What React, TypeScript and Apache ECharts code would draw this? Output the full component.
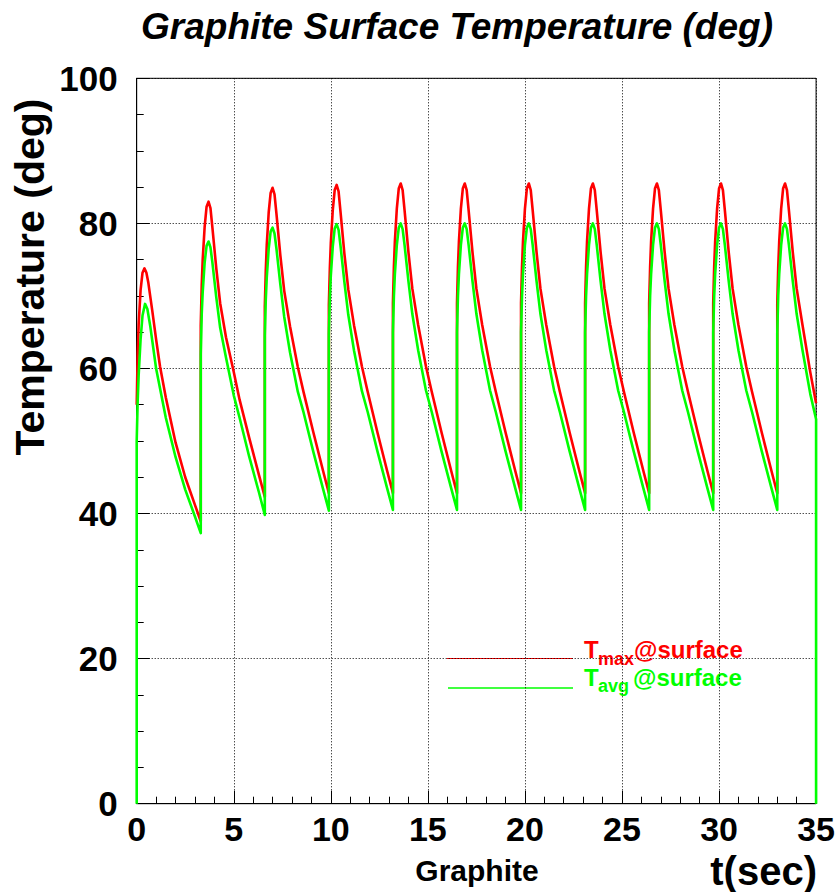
import React, { useEffect, useRef } from "react";
import * as echarts from "echarts";

// Time axis (sec) and temperature axis (deg) ticks
const xTicks = [0, 5, 10, 15, 20, 25, 30, 35];
const yTicks = [0, 20, 40, 60, 80, 100];

// T_max @ surface : [t (sec), T (deg)]
const tMax: [number, number][] = [
  [0, 55], [0.05, 62], [0.1, 66], [0.2, 70.8], [0.3, 73.2], [0.4, 73.8], [0.5, 73.2], [0.6, 71.8], [0.8, 68], [1.0, 64], [1.2, 60.3], [1.5, 56], [2.0, 49.8], [2.5, 45], [3.0, 41.2], [3.3, 38.9],
  [3.3, 66], [3.35, 71.5], [3.4, 75], [3.5, 79.5], [3.6, 82.3], [3.7, 83.0], [3.8, 82.1], [3.9, 79.4], [4.1, 73.8], [4.3, 69], [4.6, 64.3], [5.0, 59.5], [5.3, 55.7], [5.8, 50.4], [6.3, 45.3], [6.6, 42.3],
  [6.6, 68.5], [6.65, 73.5], [6.7, 77], [6.8, 81.5], [6.9, 84.2], [7.0, 84.9], [7.1, 84.0], [7.2, 81.3], [7.4, 75.6], [7.6, 70.7], [7.9, 65.8], [8.3, 60.2], [8.6, 56.7], [9.1, 51.2], [9.6, 45.9], [9.9, 42.8],
  [9.9, 68.8], [9.95, 73.8], [10.0, 77.3], [10.1, 81.8], [10.2, 84.6], [10.3, 85.3], [10.4, 84.4], [10.5, 81.6], [10.7, 75.8], [10.9, 70.9], [11.2, 65.9], [11.6, 60.3], [11.9, 56.8], [12.4, 51.2], [12.9, 45.9], [13.2, 42.8],
  [13.2, 69], [13.25, 74], [13.3, 77.5], [13.4, 82], [13.5, 84.8], [13.6, 85.5], [13.7, 84.6], [13.8, 81.8], [14.0, 76], [14.2, 71], [14.5, 66], [14.9, 60.3], [15.2, 56.8], [15.7, 51.2], [16.2, 45.9], [16.5, 42.8],
  [16.5, 69], [16.55, 74], [16.6, 77.5], [16.7, 82], [16.8, 84.8], [16.9, 85.5], [17.0, 84.6], [17.1, 81.8], [17.3, 76], [17.5, 71], [17.8, 66], [18.2, 60.3], [18.5, 56.8], [19.0, 51.2], [19.5, 45.9], [19.8, 42.8],
  [19.8, 69], [19.85, 74], [19.9, 77.5], [20.0, 82], [20.1, 84.8], [20.2, 85.5], [20.3, 84.6], [20.4, 81.8], [20.6, 76], [20.8, 71], [21.1, 66], [21.5, 60.3], [21.8, 56.8], [22.3, 51.2], [22.8, 45.9], [23.1, 42.8],
  [23.1, 69], [23.15, 74], [23.2, 77.5], [23.3, 82], [23.4, 84.8], [23.5, 85.5], [23.6, 84.6], [23.7, 81.8], [23.9, 76], [24.1, 71], [24.4, 66], [24.8, 60.3], [25.1, 56.8], [25.6, 51.2], [26.1, 45.9], [26.4, 42.8],
  [26.4, 69], [26.45, 74], [26.5, 77.5], [26.6, 82], [26.7, 84.8], [26.8, 85.5], [26.9, 84.6], [27.0, 81.8], [27.2, 76], [27.4, 71], [27.7, 66], [28.1, 60.3], [28.4, 56.8], [28.9, 51.2], [29.4, 45.9], [29.7, 42.8],
  [29.7, 69], [29.75, 74], [29.8, 77.5], [29.9, 82], [30.0, 84.8], [30.1, 85.5], [30.2, 84.6], [30.3, 81.8], [30.5, 76], [30.7, 71], [31.0, 66], [31.4, 60.3], [31.7, 56.8], [32.2, 51.2], [32.7, 45.9], [33.0, 42.8],
  [33.0, 69], [33.05, 74], [33.1, 77.5], [33.2, 82], [33.3, 84.8], [33.4, 85.5], [33.5, 84.6], [33.6, 81.8], [33.8, 76], [34.0, 71], [34.3, 66], [34.7, 59.5], [35.0, 55.2],
];

// T_avg @ surface : [t (sec), T (deg)]
const tAvg: [number, number][] = [
  [0, 0], [0, 50], [0.05, 55.5], [0.1, 59], [0.2, 64], [0.3, 67.3], [0.43, 68.9], [0.55, 68.2], [0.7, 65.8], [1.0, 60], [1.5, 53.2], [2.0, 47.8], [2.5, 43.3], [3.0, 39.6], [3.3, 37.3],
  [3.3, 62], [3.35, 67.5], [3.4, 70.5], [3.5, 74.6], [3.6, 76.9], [3.7, 77.5], [3.8, 76.7], [3.9, 74.6], [4.1, 69.8], [4.3, 65.6], [4.6, 61.5], [5.0, 56.3], [5.3, 53.2], [5.8, 47.8], [6.3, 42.9], [6.6, 39.8],
  [6.6, 64.5], [6.65, 69.5], [6.7, 72.5], [6.8, 76.5], [6.9, 78.9], [7.0, 79.4], [7.1, 78.6], [7.2, 76.5], [7.4, 71.6], [7.6, 67.1], [7.9, 62.2], [8.3, 56.8], [8.6, 53.9], [9.1, 48.5], [9.6, 43.4], [9.9, 40.4],
  [9.9, 64.8], [9.95, 69.8], [10.0, 72.8], [10.1, 76.8], [10.2, 79.3], [10.3, 79.9], [10.4, 79.1], [10.5, 76.9], [10.7, 71.9], [10.9, 67.4], [11.2, 62.4], [11.6, 56.9], [11.9, 54], [12.4, 48.6], [12.9, 43.5], [13.2, 40.5],
  [13.2, 65], [13.25, 70], [13.3, 73], [13.4, 77], [13.5, 79.4], [13.6, 80], [13.7, 79.2], [13.8, 77], [14.0, 72], [14.2, 67.5], [14.5, 62.5], [14.9, 57], [15.2, 54], [15.7, 48.6], [16.2, 43.5], [16.5, 40.5],
  [16.5, 65], [16.55, 70], [16.6, 73], [16.7, 77], [16.8, 79.4], [16.9, 80], [17.0, 79.2], [17.1, 77], [17.3, 72], [17.5, 67.5], [17.8, 62.5], [18.2, 57], [18.5, 54], [19.0, 48.6], [19.5, 43.5], [19.8, 40.5],
  [19.8, 65], [19.85, 70], [19.9, 73], [20.0, 77], [20.1, 79.4], [20.2, 80], [20.3, 79.2], [20.4, 77], [20.6, 72], [20.8, 67.5], [21.1, 62.5], [21.5, 57], [21.8, 54], [22.3, 48.6], [22.8, 43.5], [23.1, 40.5],
  [23.1, 65], [23.15, 70], [23.2, 73], [23.3, 77], [23.4, 79.4], [23.5, 80], [23.6, 79.2], [23.7, 77], [23.9, 72], [24.1, 67.5], [24.4, 62.5], [24.8, 57], [25.1, 54], [25.6, 48.6], [26.1, 43.5], [26.4, 40.5],
  [26.4, 65], [26.45, 70], [26.5, 73], [26.6, 77], [26.7, 79.4], [26.8, 80], [26.9, 79.2], [27.0, 77], [27.2, 72], [27.4, 67.5], [27.7, 62.5], [28.1, 57], [28.4, 54], [28.9, 48.6], [29.4, 43.5], [29.7, 40.5],
  [29.7, 65], [29.75, 70], [29.8, 73], [29.9, 77], [30.0, 79.4], [30.1, 80], [30.2, 79.2], [30.3, 77], [30.5, 72], [30.7, 67.5], [31.0, 62.5], [31.4, 57], [31.7, 54], [32.2, 48.6], [32.7, 43.5], [33.0, 40.5],
  [33.0, 65], [33.05, 70], [33.1, 73], [33.2, 77], [33.3, 79.4], [33.4, 80], [33.5, 79.2], [33.6, 77], [33.8, 72], [34.0, 67.5], [34.3, 62.5], [34.7, 56.5], [35.0, 53], [35.0, 0],
];

const FONT = '"Liberation Sans", Arial, Helvetica, sans-serif';
const RED = "#ff0000";
const GREEN = "#00ff00";

export default function App() {
  const ref = useRef<HTMLDivElement>(null);

  useEffect(() => {
    if (!ref.current) return;
    const chart = echarts.init(ref.current, undefined, { renderer: "svg" });
    const dotted = { color: "#000", width: 1, type: [1, 2] as number[] };
    const label = { color: "#000", fontSize: 34, fontWeight: "bold", fontFamily: FONT };
    chart.setOption({
      animation: false,
      backgroundColor: "#fff",
      grid: {
        left: 136.7,
        right: 21.3,
        top: 78.3,
        bottom: 88.3,
        show: true,
        borderColor: "#000",
        borderWidth: 1,
        backgroundColor: "transparent",
      },
      xAxis: {
        type: "value",
        min: xTicks[0],
        max: xTicks[xTicks.length - 1],
        interval: 5,
        axisLine: { show: true, lineStyle: { color: "#000", width: 1 } },
        axisTick: { show: true, inside: true, length: 13, lineStyle: { color: "#000" } },
        minorTick: { show: true, splitNumber: 5, length: 7, lineStyle: { color: "#000" } },
        splitLine: { show: true, lineStyle: dotted },
        axisLabel: { ...label, margin: 8 },
      },
      yAxis: {
        type: "value",
        min: yTicks[0],
        max: yTicks[yTicks.length - 1],
        interval: 20,
        axisLine: { show: true, lineStyle: { color: "#000", width: 1 } },
        axisTick: { show: true, inside: true, length: 13, lineStyle: { color: "#000" } },
        minorTick: { show: true, splitNumber: 4, length: 7, lineStyle: { color: "#000" } },
        splitLine: { show: true, lineStyle: dotted },
        axisLabel: { ...label, fontSize: 35, margin: 19 },
      },
      series: [
        {
          name: "Tmax@surface",
          type: "line",
          data: tMax,
          showSymbol: false,
          clip: false,
          lineStyle: { color: RED, width: 2.6, join: "round" },
          itemStyle: { color: RED },
        },
        {
          name: "Tavg@surface",
          type: "line",
          data: tAvg,
          showSymbol: false,
          clip: false,
          lineStyle: { color: GREEN, width: 2.6, join: "round" },
          itemStyle: { color: GREEN },
        },
      ],
      graphic: [
        {
          type: "text",
          x: 457,
          y: 26,
          style: {
            text: "Graphite Surface Temperature (deg)",
            font: `italic bold 37px ${FONT}`,
            fill: "#000",
            align: "center",
            verticalAlign: "middle",
          },
        },
        {
          type: "text",
          x: 30,
          y: 277,
          rotation: Math.PI / 2,
          style: {
            text: "Temperature (deg)",
            font: `bold 41px ${FONT}`,
            fill: "#000",
            align: "center",
            verticalAlign: "middle",
          },
        },
        {
          type: "text",
          x: 817,
          y: 871,
          style: {
            text: "t(sec)",
            font: `bold 40px ${FONT}`,
            fill: "#000",
            align: "right",
            verticalAlign: "middle",
          },
        },
        {
          type: "text",
          x: 477,
          y: 870,
          style: {
            text: "Graphite",
            font: `bold 30px ${FONT}`,
            fill: "#000",
            align: "center",
            verticalAlign: "middle",
          },
        },
        // legend
        { type: "line", shape: { x1: 447, y1: 658.5, x2: 573, y2: 658.5 }, style: { stroke: RED, lineWidth: 1 } },
        { type: "line", shape: { x1: 448, y1: 688, x2: 573, y2: 688 }, style: { stroke: GREEN, lineWidth: 1.5 } },
        { type: "text", x: 584, y: 649, style: { text: "T", font: `bold 24px ${FONT}`, fill: RED, verticalAlign: "middle" } },
        { type: "text", x: 598, y: 659, style: { text: "max", font: `bold 18px ${FONT}`, fill: RED, verticalAlign: "middle" } },
        { type: "text", x: 634, y: 649, style: { text: "@surface", font: `bold 24px ${FONT}`, fill: RED, verticalAlign: "middle" } },
        { type: "text", x: 584, y: 677, style: { text: "T", font: `bold 24px ${FONT}`, fill: GREEN, verticalAlign: "middle" } },
        { type: "text", x: 598, y: 686, style: { text: "avg", font: `bold 18px ${FONT}`, fill: GREEN, verticalAlign: "middle" } },
        { type: "text", x: 633, y: 677, style: { text: "@surface", font: `bold 24px ${FONT}`, fill: GREEN, verticalAlign: "middle" } },
      ],
    });
    return () => chart.dispose();
  }, []);

  return (
    <div
      ref={ref}
      style={{ position: "absolute", left: 0, top: 0, width: 838, height: 892 }}
    />
  );
}
